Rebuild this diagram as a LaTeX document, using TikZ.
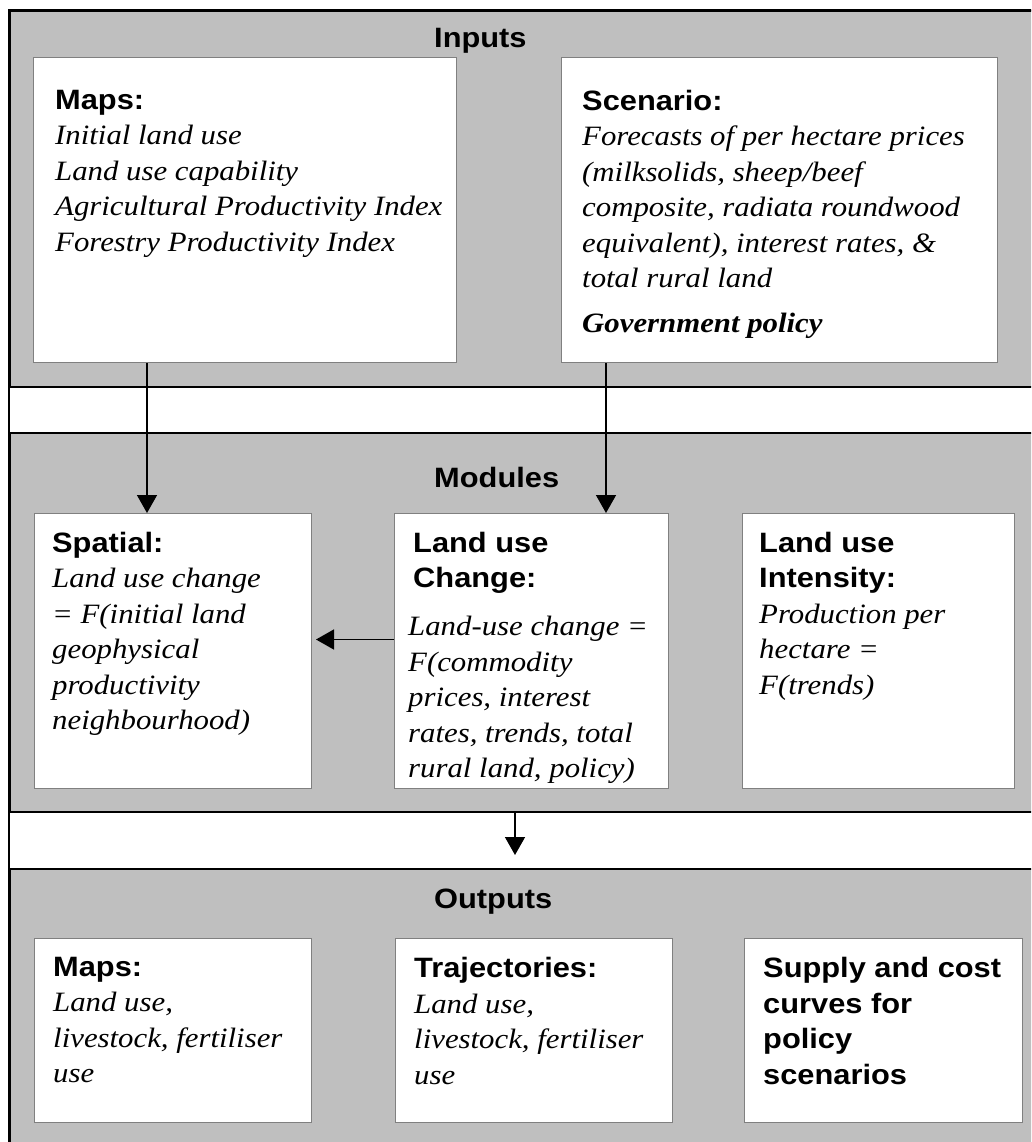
\documentclass[tikz,border=0pt]{standalone}
\usepackage{fontspec}
\setmainfont[FakeStretch=1.1]{Liberation Serif}
\setsansfont[FakeStretch=1.1]{Liberation Sans}
\usetikzlibrary{positioning,arrows.meta}
\newcommand\boxhead[1]{{\sffamily\bfseries\upshape #1}}

\begin{document}
\begin{tikzpicture}[x=1pt,y=-1pt,
        band/.style={draw, line width=1.6pt, fill=black!25, minimum width=1040pt, anchor=north west, inner sep=0pt},
        box/.style={draw=black!50, line width=1pt, fill=white, anchor=north west, inner sep=0pt},
        txt/.style={anchor=north west, inner sep=0pt, align=left, font=\fontsize{28}{35.5}\selectfont\itshape},
        title/.style={anchor=base west, inner sep=0pt, font=\fontsize{28}{35.5}\selectfont\sffamily\bfseries},
        arr/.style={-{Triangle[length=18pt,width=20pt]}, line width=1.5pt},
    ]
    \clip (0,0) rectangle (1031,1142);
    \draw[line width=1.6pt, fill=white] (9,10) rectangle (1045,1150);

    % bands
    \node[band, minimum height=376pt] (inputs) at (9,10) {};
    \node[band, minimum height=379pt] (modules) at (9,432) {};
    \node[band, minimum height=282pt] (outputs) at (9,868) {};
    \node[title] (inputstitle) at (434,48) {Inputs};
    \node[title] (modulestitle) at (434,487) {Modules};
    \node[title] (outputstitle) at (434,908) {Outputs};

    % inputs
    \node[box, minimum width=423pt, minimum height=305pt] (maps) at (33,57) {};
    \node[box, minimum width=436pt, minimum height=305pt] (scenario) at (561,57) {};
    \node[txt, below right=33pt and 22pt of maps.north west] (mapstxt) {\boxhead{Maps:}\\
        Initial land use\\ Land use capability\\ Agricultural Productivity Index\\ Forestry Productivity Index};
    \node[txt, below right=33pt and 21pt of scenario.north west] (scenariotxt) {\boxhead{Scenario:}\\
        Forecasts of per hectare prices\\ (milksolids, sheep/beef\\ composite, radiata roundwood\\
        equivalent), interest rates, \&\\ total rural land\\[9.5pt] \textbf{Government policy}};

    % modules
    \node[box, minimum width=277pt, minimum height=275pt] (spatial) at (34,513) {};
    \node[box, minimum width=274pt, minimum height=275pt] (luc) at (394,513) {};
    \node[box, minimum width=272pt, minimum height=275pt] (intensity) at (742,513) {};
    \node[txt, below right=19pt and 18pt of spatial.north west] (spatialtxt) {\boxhead{Spatial:}\\
        Land use change\\ = F(initial land\\ geophysical\\ productivity\\ neighbourhood)};
    \node[txt, below right=19pt and 14pt of luc.north west] (luctxt) {\hspace*{5pt}\boxhead{Land use}\\
        \hspace*{5pt}\boxhead{Change:}\\[12.5pt] Land-use change =\\ F(commodity\\ prices, interest\\
        rates, trends, total\\ rural land, policy)};
    \node[txt, below right=19pt and 17pt of intensity.north west] (intensitytxt) {\boxhead{Land use}\\
        \boxhead{Intensity:}\\ Production per\\ hectare =\\ F(trends)};

    % outputs
    \node[box, minimum width=277pt, minimum height=184pt] (omaps) at (34,938) {};
    \node[box, minimum width=277pt, minimum height=184pt] (traj) at (395,938) {};
    \node[box, minimum width=278pt, minimum height=184pt] (supply) at (744,938) {};
    \node[txt, below right=19pt and 19pt of omaps.north west] (omapstxt) {\boxhead{Maps:}\\
        Land use,\\ livestock, fertiliser\\ use};
    \node[txt, below right=19pt and 19pt of traj.north west] (trajtxt) {\boxhead{Trajectories:}\\
        Land use,\\ livestock, fertiliser\\ use};
    \node[txt, below right=19pt and 19pt of supply.north west] (supplytxt) {\boxhead{Supply and cost}\\
        \boxhead{curves for}\\ \boxhead{policy}\\ \boxhead{scenarios}};

    % arrows
    \coordinate (down) at (515,855);
    \draw[arr] ([xshift=114pt]maps.south west) -- ([xshift=113pt]spatial.north west);
    \draw[arr] ([xshift=45pt]scenario.south west) -- ([xshift=212pt]luc.north west);
    \draw[arr, shorten >=4pt] ([yshift=11.5pt]luc.west) -- ([yshift=11.5pt]spatial.east);
    \draw[arr] (modules.south -| down) -- (down);
\end{tikzpicture}
\end{document}
